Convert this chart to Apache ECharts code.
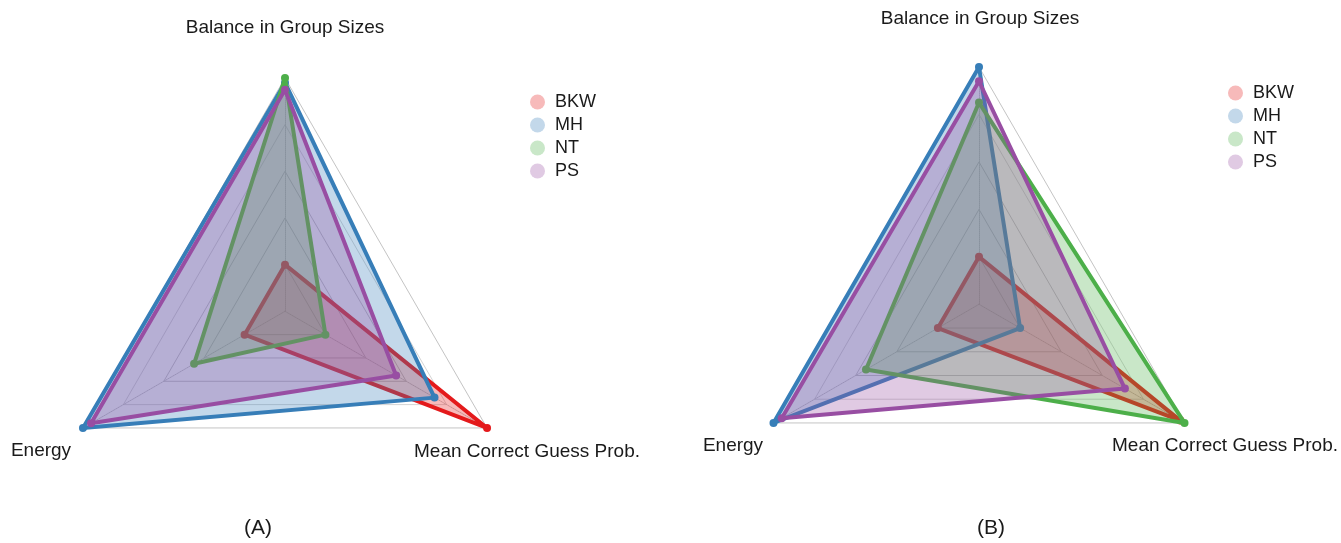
<!DOCTYPE html>
<html>
<head>
<meta charset="utf-8">
<script src="https://cdn.jsdelivr.net/npm/echarts@6/dist/echarts.min.js"></script>
<style>
  html, body { margin: 0; padding: 0; background: #fff; }
  #chart { width: 1341px; height: 543px; }
</style>
</head>
<body>
<div id="chart"></div>
<script>
// Radar axes (counter-clockwise from the top)
const indicators = ['Balance in Group Sizes', 'Energy', 'Mean Correct Guess Prob.'];
const methods = ['BKW', 'MH', 'NT', 'PS'];
const colors = ['#e41a1c', '#377eb8', '#4daf4a', '#984ea3'];

// Panel (A): values per method, in indicator order
const panelA_BKW = [0.20, 0.20, 1.00];
const panelA_MH  = [0.98, 1.00, 0.74];
const panelA_NT  = [1.00, 0.45, 0.20];
const panelA_PS  = [0.95, 0.96, 0.55];

// Panel (B)
const panelB_BKW = [0.20, 0.20, 0.98];
const panelB_MH  = [1.00, 1.00, 0.20];
const panelB_NT  = [0.85, 0.55, 1.00];
const panelB_PS  = [0.94, 0.96, 0.71];

const panelTitles = ['(A)', '(B)'];

const panelA = [panelA_BKW, panelA_MH, panelA_NT, panelA_PS];
const panelB = [panelB_BKW, panelB_MH, panelB_NT, panelB_PS];

// Layout of the two radars
const radars = [
  { center: [285, 311.3], radius: 233.3 },
  { center: [979, 304.3], radius: 237.3 }
];

function radarComponent(r) {
  return {
    center: r.center,
    radius: r.radius,
    shape: 'polygon',
    startAngle: 90,
    splitNumber: 5,
    indicator: indicators.map(n => ({ name: n, min: 0, max: 1 })),
    axisName: { show: false },
    splitArea: { show: false },
    splitLine: { lineStyle: { color: ['#c4c4c4', '#c4c4c4', '#c4c4c4', '#c4c4c4', '#d4d4d4'], width: 1 } },
    axisLine: { lineStyle: { color: '#c4c4c4', width: 1, type: 'dotted' } }
  };
}

// Each method is its own series; later series are stacked above earlier ones,
// so their translucent fills sit over the earlier outlines and markers.
function seriesFor(panel, radarIndex) {
  return panel.map((vals, i) => ({
    type: 'radar',
    name: methods[i],
    radarIndex: radarIndex,
    z: 2 + i,
    symbol: 'circle',
    symbolSize: 8,
    lineStyle: { color: colors[i], width: 4 },
    itemStyle: { color: colors[i] },
    areaStyle: { color: colors[i], opacity: 0.3 },
    emphasis: { disabled: true },
    data: [{ value: vals, name: methods[i] }]
  }));
}

// Axis names and panel labels placed around each radar
const textStyle = { fontFamily: 'Liberation Sans, Arial, sans-serif', fontSize: 19, fontWeight: 'normal', color: '#1a1a1a' };
function label(text, x, y, size) {
  return {
    text: text,
    left: x, top: y,
    textAlign: 'center', textVerticalAlign: 'middle',
    padding: 0,
    textStyle: Object.assign({}, textStyle, size ? { fontSize: size } : {})
  };
}

const titles = [
  label(indicators[0], 285, 28),
  label(indicators[1], 41, 451),
  label(indicators[2], 527, 452),
  label(indicators[0], 980, 19),
  label(indicators[1], 733, 446),
  label(indicators[2], 1225, 446),
  label(panelTitles[0], 258, 528, 21),
  label(panelTitles[1], 991, 528, 21)
];

function legendAt(left, top) {
  return {
    orient: 'vertical',
    left: left, top: top,
    data: methods,
    icon: 'circle',
    itemWidth: 15, itemHeight: 15,
    itemGap: 5,
    selectedMode: false,
    itemStyle: { opacity: 0.3 },
    textStyle: { fontFamily: 'Liberation Sans, Arial, sans-serif', fontSize: 18, color: '#1a1a1a', padding: [0, 0, 0, 5] }
  };
}

const chart = echarts.init(document.getElementById('chart'), null, { renderer: 'canvas' });
chart.setOption({
  animation: false,
  backgroundColor: '#ffffff',
  title: titles,
  legend: [legendAt(525, 88), legendAt(1223, 79)],
  radar: radars.map(radarComponent),
  series: seriesFor(panelA, 0).concat(seriesFor(panelB, 1))
});
</script>
</body>
</html>
